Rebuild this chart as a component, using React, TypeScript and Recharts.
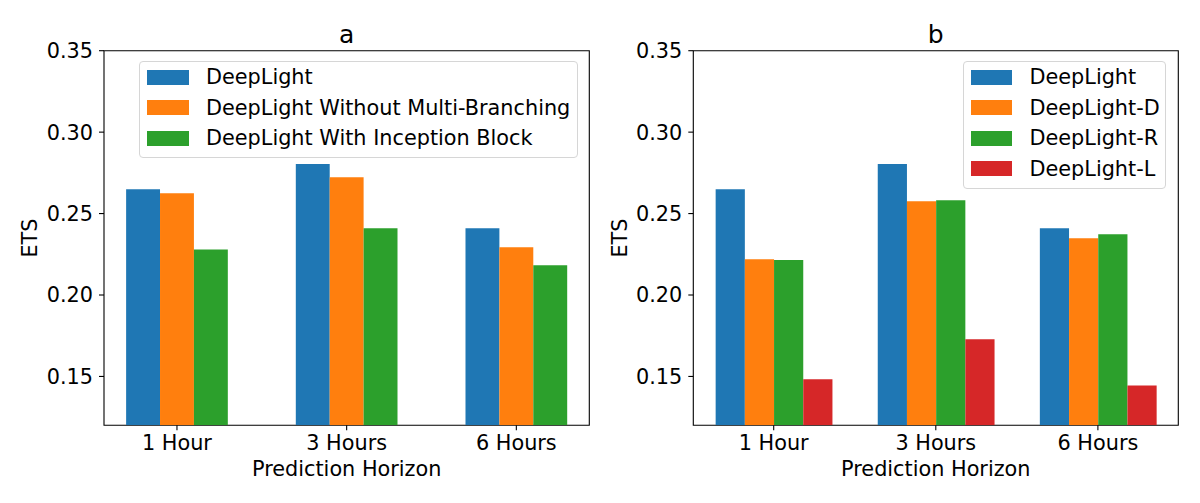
import React from 'react';
import { BarChart, Bar, XAxis, YAxis, Legend, Label, ReferenceArea } from 'recharts';

const categories = ['1 Hour', '3 Hours', '6 Hours'];
const categoryIndex = [0, 1, 2];
const yTicks = [0.15, 0.2, 0.25, 0.3, 0.35];

// Panel a
const deepLightA = [0.265, 0.2804, 0.241];
const withoutMultiBranching = [0.2625, 0.2723, 0.2293];
const withInception = [0.228, 0.241, 0.2183];

// Panel b
const deepLightB = [0.265, 0.2804, 0.241];
const deepLightD = [0.2219, 0.2576, 0.2348];
const deepLightR = [0.2215, 0.2582, 0.2373];
const deepLightL = [0.1482, 0.1728, 0.1445];

const seriesA = [
  { key: 'a0', name: 'DeepLight', color: '#1f77b4', values: deepLightA },
  { key: 'a1', name: 'DeepLight Without Multi-Branching', color: '#ff7f0e', values: withoutMultiBranching },
  { key: 'a2', name: 'DeepLight With Inception Block', color: '#2ca02c', values: withInception },
];
const seriesB = [
  { key: 'b0', name: 'DeepLight', color: '#1f77b4', values: deepLightB },
  { key: 'b1', name: 'DeepLight-D', color: '#ff7f0e', values: deepLightD },
  { key: 'b2', name: 'DeepLight-R', color: '#2ca02c', values: deepLightR },
  { key: 'b3', name: 'DeepLight-L', color: '#d62728', values: deepLightL },
];

const FONT = 'DejaVu Sans';
const FS = 20.8;

type S = { key: string; name: string; color: string; values: number[] };

function buildData(series: S[]) {
  return categoryIndex.map((x, i) => {
    const row: any = { x, label: categories[i] };
    series.forEach((s) => (row[s.key] = s.values[i]));
    return row;
  });
}

function makeLegend(series: S[], width: number) {
  const rowH = 30.5;
  return () => (
    <div
      style={{
        width,
        height: series.length * rowH + 5.5,
        boxSizing: 'border-box',
        border: '1px solid #d6d6d6',
        borderRadius: 4,
        background: 'rgba(255,255,255,0.8)',
        fontFamily: FONT,
        fontSize: FS,
        color: '#000',
        position: 'relative',
      }}
    >
      {series.map((s, i) => (
        <div
          key={s.key}
          style={{
            position: 'absolute',
            left: 0,
            top: i * rowH,
            height: rowH,
            display: 'flex',
            alignItems: 'center',
            whiteSpace: 'nowrap',
          }}
        >
          <div style={{ width: 41.7, height: 14.6, background: s.color, marginLeft: 7, marginRight: 17 }} />
          <span style={{ lineHeight: 'normal' }}>{s.name}</span>
        </div>
      ))}
    </div>
  );
}

type PanelProps = {
  series: S[];
  title: string;
  barSize: number;
  domainX: [number, number];
  margin: { top: number; right: number; bottom: number; left: number };
  legendPos: { left: number; top: number; width: number };
  titleX: number;
  xLabelX: number;
  yLabelX: number;
};

function Panel(p: PanelProps) {
  const data = buildData(p.series);
  return (
    <BarChart width={600} height={503} data={data} margin={p.margin} barGap={0} barCategoryGap={0}>
      <XAxis
        type="number"
        dataKey="x"
        domain={p.domainX}
        ticks={categoryIndex}
        allowDataOverflow
        tickFormatter={(v: number) => categories[v]}
        tick={{ fontSize: FS, fill: '#000', fontFamily: FONT }}
        tickLine={{ stroke: '#000', strokeWidth: 1.1 }}
        axisLine={false}
        tickSize={5}
        tickMargin={5}
        height={40}
        interval={0}
      >
        <Label
          content={() => (
            <text x={p.xLabelX} y={476} textAnchor="middle" fontSize={FS} fontFamily={FONT} fill="#000">
              Prediction Horizon
            </text>
          )}
        />
        <Label
          content={() => (
            <text x={p.titleX} y={42.5} textAnchor="middle" fontSize={25} fontFamily={FONT} fill="#000">
              {p.title}
            </text>
          )}
        />
      </XAxis>
      <YAxis
        type="number"
        domain={[0.12, 0.35]}
        allowDataOverflow
        ticks={yTicks}
        tickFormatter={(v: number) => v.toFixed(2)}
        tick={{ fontSize: FS, fill: '#000', fontFamily: FONT }}
        tickLine={{ stroke: '#000', strokeWidth: 1.1 }}
        axisLine={false}
        tickSize={5}
        tickMargin={6}
        width={60}
      >
        <Label
          content={() => (
            <text
              x={p.yLabelX}
              y={238}
              transform={`rotate(-90, ${p.yLabelX}, 238)`}
              textAnchor="middle"
              fontSize={FS}
              fontFamily={FONT}
              fill="#000"
            >
              ETS
            </text>
          )}
        />
      </YAxis>
      {p.series.map((s) => (
        <Bar key={s.key} dataKey={s.key} name={s.name} fill={s.color} barSize={p.barSize} isAnimationActive={false} />
      ))}
      <ReferenceArea
        x1={p.domainX[0]}
        x2={p.domainX[1]}
        y1={0.12}
        y2={0.35}
        fill="none"
        fillOpacity={0}
        stroke="#000"
        strokeWidth={1.1}
        ifOverflow="visible"
      />
      <Legend
        layout="horizontal"
        verticalAlign="middle"
        align="center"
        content={makeLegend(p.series, p.legendPos.width)}
        wrapperStyle={{ left: p.legendPos.left, top: p.legendPos.top, width: p.legendPos.width }}
      />
    </BarChart>
  );
}

export default function App() {
  return (
    <div style={{ position: 'absolute', left: 0, top: 0, width: 1200, height: 503, background: '#fff' }}>
      <div style={{ position: 'absolute', left: 0, top: 0 }}>
        <Panel
          series={seriesA}
          title="a"
          barSize={33.9}
          domainX={[-0.43, 2.43]}
          margin={{ top: 50.7, right: 10.7, bottom: 37.7, left: 44 }}
          legendPos={{ left: 139.3, top: 61, width: 439.2 }}
          titleX={346.7}
          xLabelX={346.7}
          yLabelX={37}
        />
      </div>
      <div style={{ position: 'absolute', left: 600, top: 0 }}>
        <Panel
          series={seriesB}
          title="b"
          barSize={29.2}
          domainX={[-0.496, 2.496]}
          margin={{ top: 50.7, right: 21.7, bottom: 37.7, left: 33.3 }}
          legendPos={{ left: 362.8, top: 61, width: 203.7 }}
          titleX={335.8}
          xLabelX={335.8}
          yLabelX={26.6}
        />
      </div>
    </div>
  );
}
